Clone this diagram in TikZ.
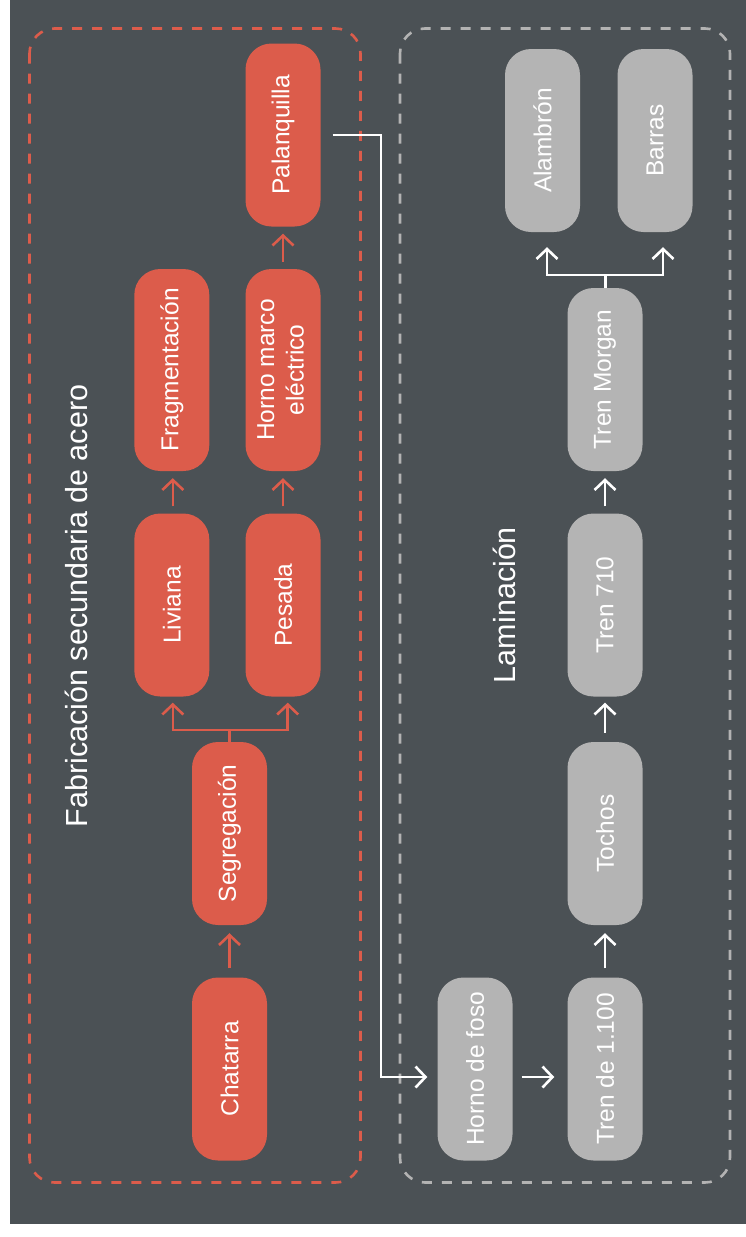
\documentclass[tikz,border=0pt]{standalone}
\usepackage{fontspec}
\setmainfont{Liberation Sans}
\usepackage{graphicx}
\usetikzlibrary{arrows.meta}
\definecolor{bg}{HTML}{4B5155}
\definecolor{rd}{HTML}{DC5C4B}
\definecolor{lg}{HTML}{B4B4B4}
\definecolor{dg}{HTML}{B3B3B3}
\begin{document}
\begin{tikzpicture}[x=1pt,y=-1pt,
  box/.style={rounded corners=26pt, minimum width=75pt, minimum height=183pt, inner sep=0pt, text=white, font=\fontsize{24.5}{29.5}\selectfont, align=center},
  redbox/.style={box, fill=rd},
  graybox/.style={box, fill=lg},
  tip/.style={-{Straight Barb[length=10pt,width=21pt]}},
  rline/.style={draw=rd, line width=2.6pt},
  wline/.style={draw=white, line width=2.6pt},
  frame/.style={line width=2.6pt, dash pattern=on 10pt off 10pt, rounded corners=25pt},
  title/.style={text=white, font=\fontsize{30.5}{36}\selectfont, inner sep=0pt}
]
\useasboundingbox (0,0) rectangle (746,1237);
\fill[white] (0,0) rectangle (746,1237);
\fill[bg] (9.5,0) rectangle (746,1224);

\draw[frame, draw=rd] (29.5,28.5) rectangle (360.5,1182.5);
\draw[frame, draw=dg] (400,28.5) rectangle (730,1182.5);

\node[title] (t1) at (76,606) {\rotatebox{90}{Fabricación secundaria de acero}};
\node[title] (t2) at (504,605) {\rotatebox{90}{Laminación}};

% red nodes
\node[redbox] (cha) at (229.5,1069) {\rotatebox{90}{Chatarra}};
\node[redbox] (seg) at (229.5,833.5) {\rotatebox{90}{Segregación}};
\node[redbox] (liv) at (171.8,605) {\rotatebox{90}{Liviana}};
\node[redbox] (pes) at (283,605) {\rotatebox{90}{Pesada}};
\node[redbox, minimum height=202pt] (fra) at (171.8,370) {\rotatebox{90}{Fragmentación}};
\node[redbox, minimum height=202pt] (hme) at (283,370) {\rotatebox{90}{\begin{tabular}{@{}c@{}}Horno marco\\eléctrico\end{tabular}}};
\node[redbox] (pal) at (283,135) {\rotatebox{90}{Palanquilla}};

% gray nodes
\node[graybox] (hfo) at (475,1069) {\rotatebox{90}{Horno de foso}};
\node[graybox] (t11) at (605,1069) {\rotatebox{90}{Tren de 1.100}};
\node[graybox] (toc) at (605,833.5) {\rotatebox{90}{Tochos}};
\node[graybox] (t71) at (605,605) {\rotatebox{90}{Tren 710}};
\node[graybox] (tmo) at (605,379.5) {\rotatebox{90}{Tren Morgan}};
\node[graybox] (ala) at (542.5,140.5) {\rotatebox{90}{Alambrón}};
\node[graybox] (bar) at (655,140.5) {\rotatebox{90}{Barras}};

% red connectors
\draw[rline, tip, shorten <=9pt, shorten >=8pt] (cha.north) -- (seg.south);
\coordinate (sj) at (229.5,730);
\draw[rline] (seg.north) -- (sj);
\draw[rline, tip, shorten >=6pt] (sj) -| ([xshift=1pt]liv.south);
\draw[rline, tip, shorten >=6pt] (sj) -| ([xshift=4.7pt]pes.south);
\draw[rline, tip, shorten <=7pt, shorten >=7pt] ([xshift=1pt]liv.north) -- ([xshift=1pt]fra.south);
\draw[rline, tip, shorten <=7pt, shorten >=7pt] (pes.north) -- (hme.south);
\draw[rline, tip, shorten <=7pt, shorten >=7pt] (hme.north) -- (pal.south);

% white connectors
\coordinate (b1) at (381,135);
\coordinate (b2) at (381,1077);
\draw[wline, tip, shorten <=12pt, shorten >=10pt] (pal.east) -- (b1) -- (b2) -- (hfo.west |- b2);
\draw[wline, tip, shorten <=9pt, shorten >=13pt] (hfo.east |- b2) -- (t11.west |- b2);
\draw[wline, tip, shorten <=9pt, shorten >=8pt] (t11.north) -- (toc.south);
\draw[wline, tip, shorten <=9pt, shorten >=6pt] (toc.north) -- (t71.south);
\draw[wline, tip, shorten <=7pt, shorten >=7pt] (t71.north) -- (tmo.south);
\coordinate (gj) at (605.7,275);
\draw[wline] ([xshift=0.7pt]tmo.north) -- (gj);
\draw[wline, tip, shorten >=15pt] (gj) -| ([xshift=4.5pt]ala.south);
\draw[wline, tip, shorten >=15pt] (gj) -| ([xshift=8pt]bar.south);
\end{tikzpicture}
\end{document}
